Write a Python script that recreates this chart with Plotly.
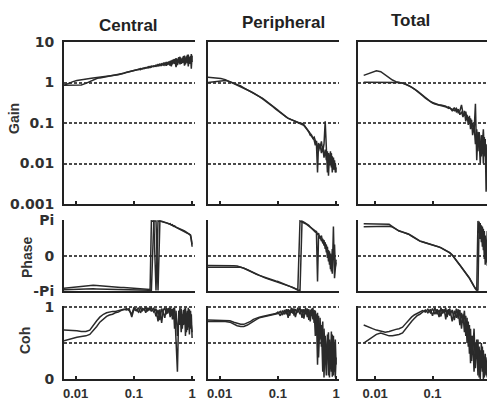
import math
import plotly.graph_objects as go

# ---------------- data ----------------
FREQ = [0.0063, 0.0075, 0.009, 0.0105, 0.0125,
        0.015, 0.0175, 0.02, 0.023, 0.026,
        0.03, 0.034, 0.038, 0.043, 0.048,
        0.054, 0.06, 0.067, 0.075, 0.083,
        0.092, 0.1, 0.11, 0.12, 0.13,
        0.14, 0.15, 0.16, 0.17, 0.18,
        0.19, 0.2, 0.22, 0.24, 0.26,
        0.28, 0.3, 0.32, 0.34, 0.36,
        0.38, 0.4, 0.42, 0.44, 0.46,
        0.48, 0.5, 0.53, 0.56, 0.59,
        0.62, 0.65, 0.68, 0.71, 0.74,
        0.77, 0.8, 0.83, 0.86, 0.9,
        0.94, 0.97, 1.0]

CEN_GAIN_A = [0.85, 0.85, 0.85, 0.85, 0.87,
              0.95, 1.05, 1.15, 1.25, 1.3,
              1.35, 1.4, 1.42, 1.45, 1.5,
              1.55, 1.6, 1.7, 1.8, 1.85,
              1.9, 2.0, 2.05, 2.1, 2.2,
              2.15, 2.3, 2.25, 2.4, 2.3,
              2.5, 2.4, 2.6, 2.5, 2.8,
              2.6, 2.9, 2.7, 3.1, 2.6,
              3.2, 2.8, 3.4, 2.5, 3.6,
              3.0, 3.8, 2.4, 3.5, 4.2,
              2.8, 3.9, 3.0, 4.5, 2.6,
              4.0, 3.2, 4.8, 2.5, 4.2,
              3.0, 5.0, 3.2]
CEN_GAIN_B = [0.85, 0.95, 1.05, 1.12, 1.18,
              1.22, 1.26, 1.3, 1.33, 1.36,
              1.38, 1.42, 1.45, 1.48, 1.52,
              1.56, 1.62, 1.68, 1.75, 1.82,
              1.88, 1.95, 2.0, 2.12, 2.08,
              2.25, 2.2, 2.35, 2.28, 2.45,
              2.35, 2.55, 2.45, 2.7, 2.55,
              2.85, 2.65, 3.0, 2.7, 3.2,
              2.7, 3.3, 2.6, 3.5, 2.8,
              3.7, 2.9, 4.0, 2.7, 3.6,
              4.3, 2.9, 4.1, 3.1, 4.6,
              2.8, 4.4, 3.0, 4.9, 2.9,
              4.5, 2.2, 4.6]
PER_GAIN_A = [1.35, 1.33, 1.3, 1.25, 1.18,
              1.05, 0.95, 0.88, 0.8, 0.72,
              0.65, 0.6, 0.55, 0.5, 0.45,
              0.4, 0.36, 0.32, 0.28, 0.25,
              0.22, 0.2, 0.18, 0.16, 0.145,
              0.135, 0.13, 0.125, 0.12, 0.115,
              0.11, 0.108, 0.104, 0.1, 0.097,
              0.09, 0.08, 0.07, 0.062, 0.055,
              0.05, 0.042, 0.045, 0.035, 0.03,
              0.006, 0.032, 0.025, 0.035, 0.02,
              0.03, 0.11, 0.02, 0.006, 0.018,
              0.01, 0.02, 0.008, 0.015, 0.007,
              0.012, 0.006, 0.008]
PER_GAIN_B = [1.0, 1.02, 1.05, 1.1, 1.12,
              1.05, 0.97, 0.9, 0.82, 0.74,
              0.66, 0.62, 0.56, 0.51, 0.46,
              0.41, 0.37, 0.33, 0.29, 0.26,
              0.23, 0.21, 0.185, 0.165, 0.15,
              0.14, 0.132, 0.127, 0.122, 0.117,
              0.113, 0.11, 0.106, 0.1, 0.092,
              0.087, 0.078, 0.068, 0.06, 0.05,
              0.047, 0.04, 0.038, 0.028, 0.036,
              0.025, 0.02, 0.03, 0.018, 0.026,
              0.014, 0.022, 0.012, 0.02, 0.005,
              0.016, 0.009, 0.018, 0.006, 0.014,
              0.007, 0.01, 0.006]
TOT_GAIN_A = [1.5, 1.65, 1.8, 1.95, 1.85,
              1.55, 1.3, 1.15, 1.05, 1.0,
              0.98, 0.92, 0.85, 0.78, 0.7,
              0.62, 0.55, 0.48, 0.42, 0.38,
              0.34, 0.32, 0.3, 0.29, 0.28,
              0.28, 0.27, 0.26, 0.26, 0.24,
              0.25, 0.23, 0.22, 0.2, 0.23,
              0.18, 0.2, 0.28, 0.17, 0.15,
              0.19, 0.12, 0.14, 0.1, 0.13,
              0.08, 0.1, 0.06, 0.3, 0.012,
              0.06, 0.04, 0.01, 0.05, 0.03,
              0.07, 0.02, 0.04, 0.002, 0.01,
              0.005, 0.008, 0.006]
TOT_GAIN_B = [1.02, 1.02, 1.0, 1.0, 1.0,
              1.0, 0.99, 0.98, 0.99, 1.0,
              0.97, 0.9, 0.84, 0.77, 0.69,
              0.61, 0.54, 0.47, 0.41, 0.37,
              0.33, 0.31, 0.295, 0.285, 0.275,
              0.27, 0.265, 0.255, 0.25, 0.245,
              0.23, 0.24, 0.2, 0.24, 0.19,
              0.22, 0.16, 0.19, 0.14, 0.2,
              0.11, 0.16, 0.09, 0.15, 0.07,
              0.12, 0.05, 0.09, 0.03, 0.07,
              0.02, 0.06, 0.035, 0.015, 0.05,
              0.01, 0.045, 0.015, 0.03, 0.004,
              0.01, 0.006, 0.008]

CEN_PHASE_A = [-2.9, -2.85, -2.8, -2.75, -2.7,
               -2.68, -2.65, -2.63, -2.65, -2.68,
               -2.7, -2.72, -2.74, -2.76, -2.78,
               -2.8, -2.82, -2.83, -2.85, -2.86,
               -2.88, -2.88, -2.9, -2.92, -2.93,
               -2.94, -2.95, -2.96, -2.97, -2.98,
               -3.0, 3.1, 3.08, -3.1, 3.1,
               3.08, 3.05, 3.0, 2.96, 2.92,
               2.88, 2.82, 2.85, 2.72, 2.76,
               2.62, 2.66, 2.55, 2.48, 2.45,
               2.4, 2.35, 2.3, 2.25, 2.2,
               2.15, 2.1, 2.06, 2.0, 1.95,
               1.85, 1.5, 0.8]
CEN_PHASE_B = [-3.02, -3.0, -2.98, -2.98, -2.97,
               -2.96, -2.95, -2.95, -2.96, -2.97,
               -2.98, -2.98, -2.99, -3.0, -3.0,
               -3.0, -3.01, -3.01, -3.02, -3.02,
               -3.03, -3.03, -3.04, -3.04, -3.05,
               -3.05, -3.05, -3.06, -3.06, -3.07,
               -3.07, -3.08, 3.1, 3.09, -3.1,
               3.1, 3.07, 3.04, 3.0, 2.95,
               2.9, 2.86, 2.8, 2.78, 2.7,
               2.68, 2.6, 2.55, 2.5, 2.42,
               2.38, 2.32, 2.28, 2.22, 2.18,
               2.12, 2.08, 2.02, 1.98, 1.9,
               1.8, 1.4, 1.0]
PER_PHASE_A = [-0.86, -0.86, -0.85, -0.86, -0.87,
               -0.88, -0.9, -0.92, -0.98, -1.1,
               -1.25, -1.4, -1.55, -1.65, -1.75,
               -1.85, -1.95, -2.05, -2.12, -2.2,
               -2.25, -2.3, -2.38, -2.45, -2.5,
               -2.58, -2.63, -2.68, -2.75, -2.8,
               -2.88, -2.93, -3.05, 3.1, 3.0,
               2.95, 2.85, 2.75, 2.65, 2.6,
               2.5, 2.4, 2.3, 2.2, 2.0,
               -2.3, 1.8, 1.7, 1.3, 1.5,
               0.9, 1.2, 0.3, 0.8, -0.5,
               0.4, -1.2, 0.0, -1.6, 2.6,
               -2.0, -0.5, -0.35]
PER_PHASE_B = [-1.03, -1.02, -1.02, -1.01, -1.0,
               -1.0, -1.0, -1.0, -1.02, -1.12,
               -1.27, -1.42, -1.56, -1.67, -1.77,
               -1.87, -1.97, -2.06, -2.14, -2.21,
               -2.27, -2.33, -2.4, -2.46, -2.52,
               -2.6, -2.65, -2.7, -2.77, -2.83,
               -2.9, -2.96, -3.05, -3.1, 3.08,
               3.0, 2.9, 2.8, 2.7, 2.55,
               2.45, 2.35, 2.25, 2.1, 2.15,
               1.9, 2.0, 1.5, 1.8, 1.1,
               1.4, 0.6, 1.0, -0.2, 0.5,
               -0.8, 0.2, -1.4, 0.6, -0.3,
               1.0, -1.0, -0.6]
TOT_PHASE_A = [2.84, 2.84, 2.85, 2.85, 2.86,
               2.86, 2.8, 2.6, 2.35, 2.2,
               2.1, 2.02, 1.92, 1.75, 1.6,
               1.42, 1.3, 1.22, 1.15, 1.1,
               1.0, 0.95, 0.9, 0.85, 0.78,
               0.7, 0.62, 0.55, 0.5, 0.43,
               0.35, 0.25, 0.05, -0.17, -0.4,
               -0.65, -0.85, -1.03, -1.2, -1.4,
               -1.55, -1.7, -1.85, -2.0, -2.2,
               -2.4, -2.5, -2.75, -2.95, -3.1,
               3.1, 2.0, 2.9, 1.2, 2.6,
               0.5, 2.2, -0.8, 1.0, -0.9,
               0.5, -0.5, 0.2]
TOT_PHASE_B = [2.58, 2.6, 2.6, 2.62, 2.62,
               2.63, 2.63, 2.55, 2.35, 2.22,
               2.12, 2.04, 1.94, 1.78, 1.62,
               1.45, 1.32, 1.24, 1.17, 1.1,
               1.02, 0.97, 0.92, 0.86, 0.8,
               0.72, 0.64, 0.57, 0.51, 0.45,
               0.37, 0.27, 0.08, -0.14, -0.37,
               -0.62, -0.82, -1.0, -1.18, -1.37,
               -1.52, -1.68, -1.82, -1.98, -2.15,
               -2.35, -2.55, -2.7, -2.9, -3.05,
               -3.1, 3.05, 1.5, 2.7, 0.8,
               2.4, -0.3, 1.8, -0.6, 2.2,
               -0.2, 0.4, -0.4]

CEN_COH_A = [0.68, 0.68, 0.67, 0.67, 0.66,
             0.66, 0.68, 0.75, 0.81, 0.86,
             0.9, 0.92, 0.93, 0.94, 0.94,
             0.95, 0.96, 0.97, 0.96, 0.98,
             0.86, 0.97, 0.95, 0.99, 0.92,
             0.98, 0.96, 0.99, 0.94, 0.98,
             0.96, 0.99, 0.93, 0.98, 0.8,
             0.97, 0.78, 0.96, 0.99, 0.9,
             0.98, 0.94, 0.99, 0.88, 0.97,
             0.92, 0.99, 0.6, 0.1, 0.95,
             0.75, 0.98, 0.7, 0.96, 0.8,
             0.99, 0.65, 0.95, 0.72, 0.97,
             0.7, 0.9, 0.57]
CEN_COH_B = [0.53, 0.55, 0.56, 0.58, 0.59,
             0.6, 0.62, 0.67, 0.73, 0.79,
             0.84, 0.87, 0.89, 0.9, 0.92,
             0.93, 0.95, 0.96, 0.98, 0.95,
             0.9, 0.99, 0.97, 0.93, 0.99,
             0.95, 0.98, 0.92, 0.99, 0.96,
             0.99, 0.94, 0.99, 0.87, 0.96,
             0.82, 0.98, 0.92, 0.85, 0.99,
             0.91, 0.99, 0.86, 0.98, 0.83,
             0.99, 0.7, 0.95, 0.6, 0.85,
             0.99, 0.65, 0.9, 0.75, 0.98,
             0.6, 0.92, 0.68, 0.99, 0.62,
             0.95, 0.75, 0.65]
PER_COH_A = [0.82, 0.82, 0.82, 0.82, 0.82,
             0.81, 0.79, 0.77, 0.76, 0.76,
             0.78, 0.8, 0.83, 0.85, 0.86,
             0.87, 0.88, 0.89, 0.9, 0.91,
             0.91, 0.93, 0.88, 0.95, 0.9,
             0.97, 0.85, 0.96, 0.92, 0.98,
             0.88, 0.97, 0.93, 0.99, 0.85,
             0.97, 0.9, 0.98, 0.82, 0.96,
             0.88, 0.99, 0.78, 0.95, 0.7,
             0.92, 0.3, 0.85, 0.45, 0.8,
             0.02, 0.6, 0.2, 0.62, 0.05,
             0.55, 0.15, 0.66, 0.03, 0.6,
             0.1, 0.55, 0.2]
PER_COH_B = [0.8, 0.8, 0.81, 0.81, 0.8,
             0.79, 0.76, 0.74, 0.73, 0.73,
             0.75, 0.78, 0.81, 0.83, 0.85,
             0.86, 0.87, 0.88, 0.89, 0.9,
             0.9, 0.91, 0.94, 0.89, 0.96,
             0.9, 0.97, 0.88, 0.99, 0.91,
             0.98, 0.86, 0.99, 0.9, 0.97,
             0.84, 0.99, 0.86, 0.97, 0.8,
             0.98, 0.83, 0.96, 0.6, 0.9,
             0.2, 0.88, 0.55, 0.75, 0.1,
             0.7, 0.35, 0.05, 0.5, 0.65,
             0.02, 0.45, 0.1, 0.62, 0.05,
             0.5, 0.02, 0.3]
TOT_COH_A = [0.75, 0.72, 0.7, 0.68, 0.66,
             0.65, 0.66, 0.68, 0.69, 0.7,
             0.72, 0.77, 0.82, 0.86, 0.89,
             0.91, 0.93, 0.95, 0.93, 0.97,
             0.92, 0.98, 0.9, 0.97, 0.86,
             0.99, 0.91, 0.97, 0.83, 0.96,
             0.9, 0.98, 0.8, 0.95, 0.85,
             0.97, 0.75, 0.92, 0.8, 0.95,
             0.6, 0.85, 0.45, 0.75, 0.22,
             0.6, 0.35, 0.7, 0.15, 0.55,
             0.05, 0.45, 0.0, 0.5, 0.1,
             0.4, 0.02, 0.35, 0.05, 0.3,
             0.1, 0.2, 0.1]
TOT_COH_B = [0.5, 0.54, 0.58, 0.62, 0.64,
             0.62, 0.6, 0.6, 0.61, 0.62,
             0.64, 0.7, 0.75, 0.8, 0.84,
             0.88, 0.9, 0.93, 0.96, 0.92,
             0.97, 0.88, 0.99, 0.9, 0.96,
             0.87, 0.97, 0.92, 0.99, 0.86,
             0.97, 0.88, 0.96, 0.82, 0.98,
             0.84, 0.96, 0.7, 0.9, 0.65,
             0.88, 0.5, 0.8, 0.35, 0.7,
             0.25, 0.6, 0.1, 0.5, 0.3,
             0.55, 0.02, 0.4, 0.15, 0.45,
             0.0, 0.3, 0.08, 0.25, 0.02,
             0.15, 0.05, 0.1]

COLUMNS = ["Central", "Peripheral", "Total"]
ROWS = ["Gain", "Phase", "Coh"]
SERIES = {
    ("Central", "Gain"): [CEN_GAIN_A, CEN_GAIN_B],
    ("Peripheral", "Gain"): [PER_GAIN_A, PER_GAIN_B],
    ("Total", "Gain"): [TOT_GAIN_A, TOT_GAIN_B],
    ("Central", "Phase"): [CEN_PHASE_A, CEN_PHASE_B],
    ("Peripheral", "Phase"): [PER_PHASE_A, PER_PHASE_B],
    ("Total", "Phase"): [TOT_PHASE_A, TOT_PHASE_B],
    ("Central", "Coh"): [CEN_COH_A, CEN_COH_B],
    ("Peripheral", "Coh"): [PER_COH_A, PER_COH_B],
    ("Total", "Coh"): [TOT_COH_A, TOT_COH_B],
}

X_TICKS = [0.01, 0.1, 1]
X_TICKTEXT = ["0.01", "0.1", "1"]
GAIN_TICKS = [0.001, 0.01, 0.1, 1, 10]
GAIN_TICKTEXT = ["0.001", "0.01", "0.1", "1", "10"]
PHASE_TICKS = [-math.pi, 0, math.pi]
PHASE_TICKTEXT = ["-Pi", "0", "Pi"]
COH_TICKS = [0, 0.5, 1]
COH_TICKTEXT = ["0", "", "1"]

# ---------------- layout (pixel geometry) ----------------
W, H = 494, 401
X_DOM = {"Central": (64, 195), "Peripheral": (208, 339), "Total": (358, 487)}
X_RANGE = {"Central": [-2.2, 0.05], "Peripheral": [-2.2, 0.05], "Total": [-2.3, -0.05]}
Y_DOM = {"Gain": (42, 204), "Phase": (220, 291), "Coh": (306, 379)}

INK = "#222222"
LINE = "#2a2a2a"
GRID = "#4a4a4a"
YTICKFONT = dict(family="DejaVu Sans", size=14, color="#303030", weight="bold")
XTICKFONT = dict(family="Liberation Sans, Arial", size=13, color="#303030", weight="bold")


def xd(a, b):
    return [a / W, b / W]


def yd(a, b):
    return [1 - b / H, 1 - a / H]


fig = go.Figure()
layout = dict(width=W, height=H, autosize=False,
              margin=dict(l=0, r=0, t=0, b=0),
              paper_bgcolor="white", plot_bgcolor="white",
              showlegend=False, template="none")

for r, row in enumerate(ROWS):
    for c, col in enumerate(COLUMNS):
        i = r * 3 + c + 1
        xname = "xaxis" if i == 1 else f"xaxis{i}"
        yname = "yaxis" if i == 1 else f"yaxis{i}"
        xref = "x" if i == 1 else f"x{i}"
        yref = "y" if i == 1 else f"y{i}"
        for s in SERIES[(col, row)]:
            fig.add_trace(go.Scatter(x=FREQ, y=s, mode="lines",
                                     line=dict(color=LINE, width=1.5),
                                     xaxis=xref, yaxis=yref,
                                     hoverinfo="skip"))
        xa = dict(type="log", range=X_RANGE[col], domain=xd(*X_DOM[col]),
                  anchor=yref, showline=True, linecolor=INK, linewidth=2,
                  mirror=(row == "Gain"), showgrid=False, zeroline=False,
                  tickvals=X_TICKS, ticktext=X_TICKTEXT,
                  ticks="inside" if row != "Phase" else "",
                  ticklen=3, tickwidth=1.5, tickcolor=INK,
                  showticklabels=(row == "Coh"), tickfont=XTICKFONT,
                  ticklabelstandoff=1, automargin=False)
        ya = dict(domain=yd(*Y_DOM[row]), anchor=xref, showline=True,
                  linecolor=INK, linewidth=2, mirror=False, zeroline=False,
                  showgrid=True, gridcolor=GRID, gridwidth=1.5,
                  griddash="3px,2px", ticks="", automargin=False,
                  showticklabels=(c == 0), tickfont=YTICKFONT,
                  ticklabelstandoff=5)
        if row == "Gain":
            ya.update(type="log", range=[-3, 1], tickvals=GAIN_TICKS,
                      ticktext=GAIN_TICKTEXT)
        elif row == "Phase":
            ya.update(range=[-math.pi, math.pi + 0.04], tickvals=PHASE_TICKS,
                      ticktext=PHASE_TICKTEXT)
        else:
            ya.update(range=[0, 1.015], tickvals=COH_TICKS,
                      ticktext=COH_TICKTEXT)
        layout[xname] = xa
        layout[yname] = ya

annotations = []
TITLE_POS = {"Central": (128, 25), "Peripheral": (283, 22), "Total": (410, 20)}
for col in COLUMNS:
    px, py = TITLE_POS[col]
    annotations.append(dict(text=col, x=px / W, y=1 - py / H, xref="paper",
                            yref="paper", xanchor="center", yanchor="middle",
                            showarrow=False,
                            font=dict(family="Liberation Sans, Arial", size=17,
                                      color="#222222", weight="bold")))
YTITLE_POS = {"Gain": (14, 119), "Phase": (27, 258), "Coh": (25, 341)}
for row in ROWS:
    px, py = YTITLE_POS[row]
    annotations.append(dict(text=row, x=px / W, y=1 - py / H, xref="paper",
                            yref="paper", xanchor="center", yanchor="middle",
                            showarrow=False, textangle=-90,
                            font=dict(family="Liberation Sans, Arial", size=14,
                                      color="#333333", weight="bold")))
layout["annotations"] = annotations

fig.update_layout(**layout)
fig.write_html("out.html")
